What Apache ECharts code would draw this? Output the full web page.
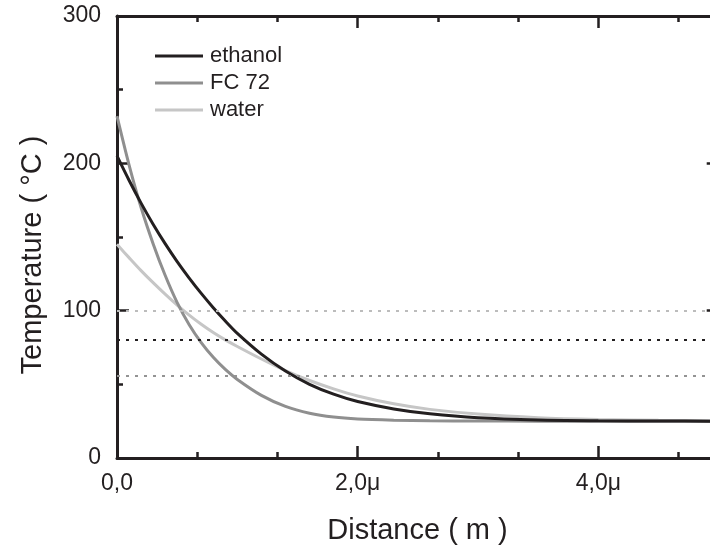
<!DOCTYPE html>
<html>
<head>
<meta charset="utf-8">
<script src="https://cdn.jsdelivr.net/npm/echarts@6/dist/echarts.min.js"></script>
<style>
html,body{margin:0;padding:0;background:#fff;}
#chart{width:710px;height:553px;}
</style>
</head>
<body>
<div id="chart"></div>
<script>
// Distance in micrometres
const distance = [0, 0.1, 0.2, 0.3, 0.4, 0.5, 0.6, 0.7, 0.8, 0.9, 1.0, 1.2, 1.4, 1.6, 1.8, 2.0, 2.3, 2.6, 3.0, 3.5, 4.0, 4.5, 5.0];
const ethanol  = [205, 188.5, 173, 158.7, 145.5, 133.3, 122.1, 111.7, 102, 93, 84.6, 70.5, 59, 50, 43.3, 38.3, 33.3, 30, 27.3, 25.8, 25.3, 25.1, 25.0];
const fc72     = [232, 199, 170, 145.5, 124, 105.5, 90.5, 78.3, 68.3, 60.1, 53.3, 42.5, 35, 30.4, 27.8, 26.5, 25.7, 25.3, 25.1, 25.0, 25.0, 25.0, 25.0];
const water    = [145, 136, 127.2, 119, 111.2, 103.8, 97, 90.8, 85.2, 80.2, 75.7, 67.2, 59.3, 52.6, 46.9, 42.1, 36.8, 33, 29.8, 27.4, 26.2, 25.6, 25.3];
const seriesNames = ['ethanol', 'FC 72', 'water'];
const boilingPoints = [80, 56, 100]; // ethanol, FC 72, water
const xTickValues = [0, 2, 4];
const xTickLabels = ['0,0', '2,0\u03bc', '4,0\u03bc'];
const yTickValues = [0, 100, 200, 300];
const yTickLabels = ['0', '100', '200', '300'];

const DARK = '#231f20';
const colors = [DARK, '#8f8f8f', '#c6c6c6'];
const dotColors = [DARK, '#939393', '#bcbcbc'];
const FONT = '"Liberation Sans", Arial, Helvetica, sans-serif';

function pairs(ys) { return distance.map((d, i) => [d, ys[i]]); }
const values = [ethanol, fc72, water];

const axisBase = {
  type: 'value', min: 0, max: 6, interval: 2,
  axisLine: { show: true, onZero: false, lineStyle: { color: DARK, width: 3 } },
  axisTick: { show: true, inside: true, length: 12, lineStyle: { color: DARK, width: 2.5 } },
  minorTick: { show: true, splitNumber: 3, length: 6, lineStyle: { color: DARK, width: 2.5 } },
  splitLine: { show: false }, minorSplitLine: { show: false }
};
const yBase = {
  type: 'value', min: 0, max: 300, interval: 100,
  axisLine: { show: true, onZero: false, lineStyle: { color: DARK, width: 3 } },
  axisTick: { show: true, inside: true, length: 12, lineStyle: { color: DARK, width: 2.5 } },
  minorTick: { show: true, splitNumber: 2, length: 6, lineStyle: { color: DARK, width: 2.5 } },
  splitLine: { show: false }, minorSplitLine: { show: false }
};

const chart = echarts.init(document.getElementById('chart'), null, { renderer: 'canvas' });
chart.setOption({
  animation: false,
  backgroundColor: '#fff',
  grid: { left: 117, top: 16, right: -129, bottom: 95, containLabel: false, outerBoundsMode: 'none' },
  legend: {
    data: seriesNames, orient: 'vertical', left: 155, top: 45, padding: 0, icon: 'rect',
    itemWidth: 48, itemHeight: 3, itemGap: 5,
    textStyle: { fontFamily: FONT, fontSize: 22, color: DARK, padding: [0, 0, 0, 2] }
  },
  xAxis: [
    Object.assign({}, axisBase, {
      position: 'bottom',
      name: 'Distance ( m )', nameLocation: 'middle', nameGap: 58,
      nameTextStyle: { fontFamily: FONT, fontSize: 29, color: DARK, padding: [0, 121, 0, 0] },
      axisLabel: {
        margin: 14, fontFamily: FONT, fontSize: 23, color: DARK,
        formatter: v => { const i = xTickValues.indexOf(v); return i >= 0 ? xTickLabels[i] : ''; }
      }
    }),
    Object.assign({}, axisBase, { position: 'top', axisLabel: { show: false } })
  ],
  yAxis: [
    Object.assign({}, yBase, {
      position: 'left',
      name: 'Temperature ( \u00b0C )', nameLocation: 'middle', nameGap: 70, nameRotate: 90,
      nameTextStyle: { fontFamily: FONT, fontSize: 29, color: DARK, padding: [0, 36, 0, 0] },
      axisLabel: {
        margin: 16, fontFamily: FONT, fontSize: 23, color: DARK,
        formatter: v => { const i = yTickValues.indexOf(v); return i >= 0 ? yTickLabels[i] : ''; }
      }
    }),
    Object.assign({}, yBase, { position: 'right', offset: -120.3, axisLabel: { show: false } })
  ],
  series: seriesNames.map((name, k) => ({
    name: name, type: 'line', xAxisIndex: 0, yAxisIndex: 0,
    data: pairs(values[k]), showSymbol: false, symbol: 'none', smooth: 0.3,
    z: 3 - k,
    lineStyle: { color: colors[k], width: 3 },
    itemStyle: { color: colors[k] },
    markLine: {
      silent: true, symbol: 'none', label: { show: false },
      lineStyle: { color: dotColors[k], width: 2, type: [3, 6] },
      data: [{ yAxis: boilingPoints[k] }]
    }
  }))
});
</script>
</body>
</html>
